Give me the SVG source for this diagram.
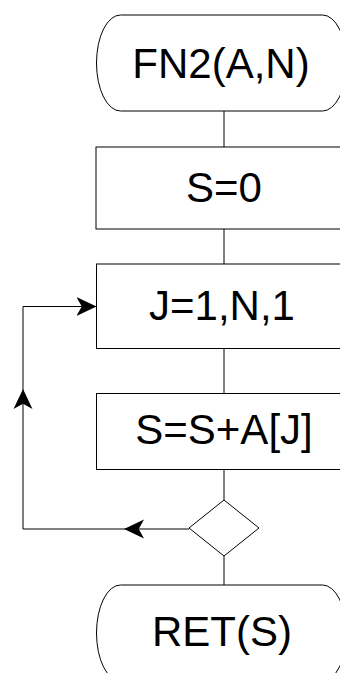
<svg xmlns="http://www.w3.org/2000/svg" width="340" height="673" viewBox="0 0 340 673">
  <style>
    .shape { fill: #ffffff; stroke: #000000; stroke-width: 1; }
    .edge { fill: none; stroke: #000000; stroke-width: 1; }
    .label { font-family: "Liberation Sans", Arial, sans-serif; font-size: 42px; fill: #000000; text-anchor: middle; }
  </style>
  <defs>
    <marker id="arrow" markerUnits="userSpaceOnUse" markerWidth="20" markerHeight="20" viewBox="0 0 19 18" refX="19" refY="9" orient="auto">
      <path d="M0,0 L19,9 L0,18 L5,9 Z" fill="#000000"/>
    </marker>
  </defs>
  <rect width="340" height="673" fill="#ffffff"/>

  <!-- connectors -->
  <g id="connectors">
    <path class="edge" d="M224,111 V147"/>
    <path class="edge" d="M224,229 V264"/>
    <path class="edge" d="M224,348 V393"/>
    <path class="edge" d="M224,469 V500"/>
    <path class="edge" d="M224,556 V585"/>
    <!-- loop back from the decision to the loop header -->
    <path class="edge" d="M189,529 H124" marker-end="url(#arrow)"/>
    <path class="edge" d="M124,529 H23 V389" marker-end="url(#arrow)"/>
    <path class="edge" d="M23,389 V306.5 H96.5" marker-end="url(#arrow)"/>
  </g>

  <g id="start">
    <rect class="shape" x="96.5" y="15" width="250" height="96" rx="24" ry="48"/>
    <text class="label" x="221" y="78">FN2(A,N)</text>
  </g>

  <g id="init">
    <rect class="shape" x="96" y="147" width="256" height="82"/>
    <text class="label" x="224" y="202">S=0</text>
  </g>

  <g id="loop">
    <rect class="shape" x="96.5" y="264" width="256" height="84.5"/>
    <text class="label" x="222" y="320">J=1,N,1</text>
  </g>

  <g id="accumulate">
    <rect class="shape" x="96.5" y="393.5" width="256" height="76"/>
    <text class="label" x="224" y="444">S=S+A[J]</text>
  </g>

  <g id="decision">
    <polygon class="shape" points="224,500 259,528 224,556 189,528"/>
  </g>

  <g id="end">
    <rect class="shape" x="96.5" y="585" width="250" height="96" rx="24" ry="48"/>
    <text class="label" x="222" y="646">RET(S)</text>
  </g>
</svg>
